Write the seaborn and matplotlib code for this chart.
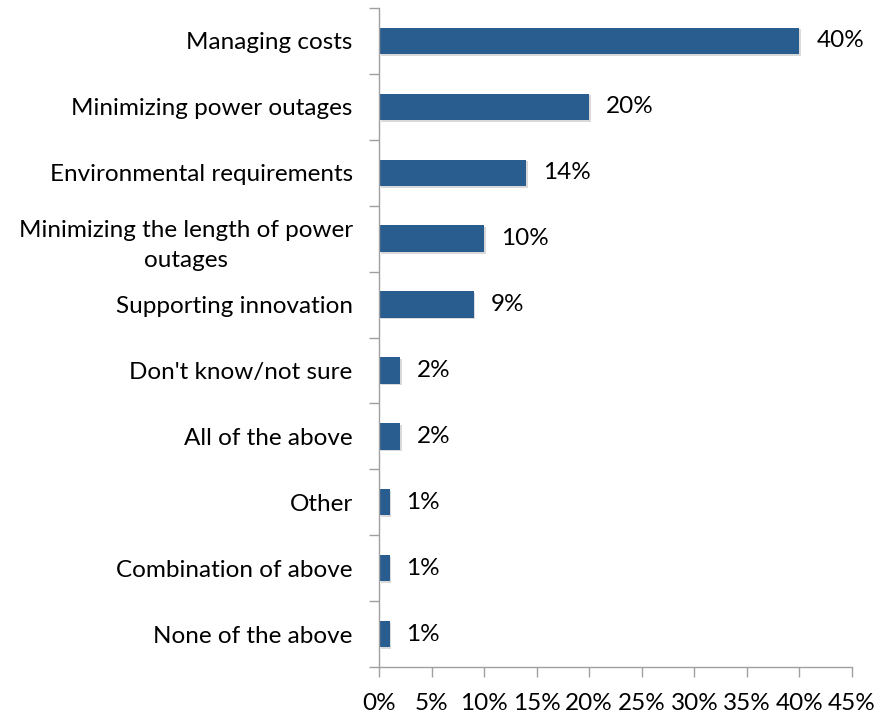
import matplotlib
matplotlib.use("Agg")
import matplotlib.pyplot as plt
import matplotlib.patheffects as pe
import numpy as np
import pandas as pd
import seaborn as sns

categories = [
    "Managing costs",
    "Minimizing power outages",
    "Environmental requirements",
    "Minimizing the length of power\noutages",
    "Supporting innovation",
    "Don't know/not sure",
    "All of the above",
    "Other",
    "Combination of above",
    "None of the above",
]
values = [40, 20, 14, 10, 9, 2, 2, 1, 1, 1]
x_ticks = [0, 5, 10, 15, 20, 25, 30, 35, 40, 45]

df = pd.DataFrame({"category": categories, "value": values})

sns.set_theme(style="white")
plt.rcParams["font.family"] = ["Lato", "DejaVu Sans"]

FS = 17.5
fig = plt.figure(figsize=(8.78, 7.16), dpi=100)
ax = fig.add_axes([0.4317, 0.0684, 0.9704 - 0.4317, 0.9888 - 0.0684])

bar_color = "#2a5d8f"
sns.barplot(data=df, y="category", x="value", orient="h", color=bar_color,
            width=0.4, saturation=1, ax=ax)

for patch in ax.patches:
    patch.set_edgecolor("none")
    patch.set_path_effects([
        pe.SimplePatchShadow(offset=(1.2, -1.2), shadow_rgbFace="#000000", alpha=0.15),
        pe.Normal(),
    ])

for i, v in enumerate(values):
    ax.text(v + 1.6, i, f"{v}%", va="center", ha="left", fontsize=FS, color="black")

ax.set_xlim(0, 45)
ax.set_ylim(len(categories) - 0.5, -0.5)
ax.set_xticks(x_ticks)
ax.set_xticklabels([f"{t}%" for t in x_ticks], fontsize=FS, color="black")
ax.set_yticks(range(len(categories)))
ax.set_yticklabels(categories, fontsize=FS, color="black")
for lbl in ax.get_yticklabels():
    lbl.set_multialignment("center")
    lbl.set_linespacing(1.55)
ax.set_yticks(np.arange(-0.5, len(categories), 1.0), minor=True)
ax.tick_params(axis="y", which="major", left=False, length=0, pad=19)
ax.tick_params(axis="y", which="minor", left=True, length=7, width=1, color="#a0a0a0", direction="out")
ax.tick_params(axis="x", which="major", bottom=True, length=7, width=1, color="#a0a0a0", direction="out", pad=12)
ax.set_xlabel("")
ax.set_ylabel("")

for side in ["top", "right"]:
    ax.spines[side].set_visible(False)
for side in ["left", "bottom"]:
    ax.spines[side].set_color("#a0a0a0")
    ax.spines[side].set_linewidth(1)

fig.savefig("out.png", dpi=100)
